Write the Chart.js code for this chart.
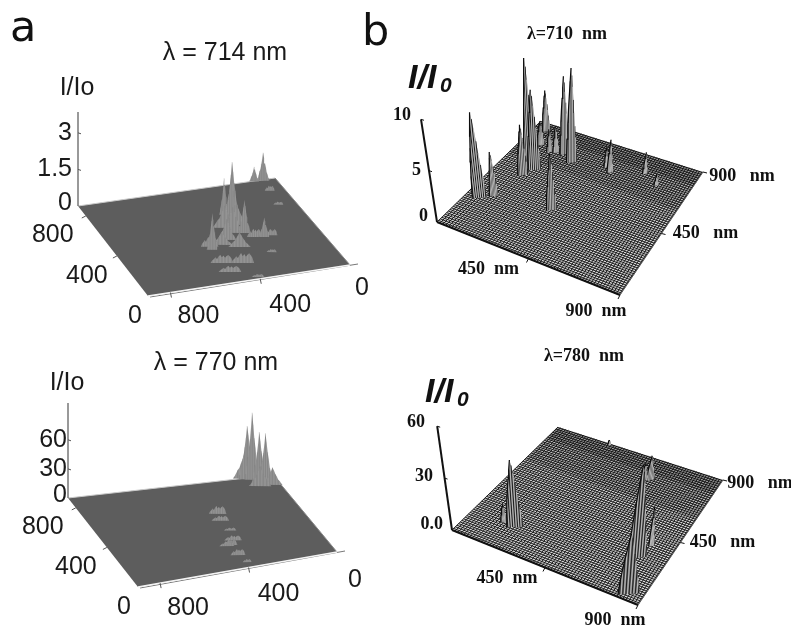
<!DOCTYPE html>
<html><head><meta charset="utf-8">
<style>
html,body{margin:0;padding:0;background:#fff;width:791px;height:631px;overflow:hidden}
canvas{position:absolute;display:block}
.soft{filter:blur(0.7px)}
.tag{position:absolute;font-family:"DejaVu Sans";font-size:43px;line-height:50px;color:#111}
</style>
<script src="https://cdn.jsdelivr.net/npm/chart.js@4/dist/chart.umd.min.js"></script>
</head><body>
<canvas id="c714" class="soft" width="375" height="330" style="left:0;top:0"></canvas>
<canvas id="c770" class="soft" width="375" height="301" style="left:0;top:330px"></canvas>
<canvas id="c710" width="416" height="340" style="left:375px;top:0"></canvas>
<canvas id="c780" width="416" height="291" style="left:375px;top:340px"></canvas>
<div class="tag" style="left:10px;top:1px">a</div>
<div class="tag" style="left:362px;top:5px">b</div>
<script>
// Intensity peaks: position on the sample plane (nm), height (I/Io), base width (nm)
const a714X = [58,97,66,79,246,212,285,267,403,418,498,501,497,496,442,406,378,359,375,314,312,333,315,308];
const a714Y = [890,895,790,651,373,381,387,226,19,167,103,196,359,328,360,398,317,454,510,520,437,629,591,599];
const a714Z = [1.15,0.6,0.2,0.12,0.8,0.25,0.33,0.12,0.12,0.4,0.25,0.33,0.4,1.5,0.5,0.85,0.6,1.05,0.9,0.8,1.35,1.5,1.76,2.25];
const a714W = [50,40,40,40,45,50,60,40,50,90,90,90,70,45,90,80,90,90,100,80,50,40,50,60];

const a770X = [128,118,99,80,56,89,35,350,361,354,374,402,417,402,388];
const a770Y = [895,885,876,837,827,797,796,570,499,388,288,245,241,137,55];
const a770Z = [26,55,69,52,51,20,18,8,5,3,5,6,4,6,3];
const a770W = [90,70,60,60,60,90,80,70,70,50,70,60,60,60,35];

const b710X = [64,112,141,171,145,67,100,164,193,234,294,381,491,455,646,733];
const b710Y = [260,304,574,565,506,842,741,715,724,731,694,351,711,739,775,726];
const b710Z = [8.3,4.3,10.6,7.8,4.9,4,2.3,2.2,2.5,7.6,9.2,5.5,3.2,1.9,2.1,1.2];
const b710W = [52,32,42,50,40,32,30,24,26,36,40,40,24,18,20,18];

const b780X = [286,584,560,157,212,792,770,837];
const b780Y = [890,758,745,175,172,367,270,42];
const b780Z = [3,14,10,10.4,38.7,23,54,35];
const b780W = [14,34,24,26,60,20,70,80];

// Cross-sections of a peak: fraction of its height across its width
const spikeProfile = [0,0.1,0.22,0.3,0.48,0.62,0.82,1,0.78,0.6,0.42,0.34,0.2,0.08,0];
const blobProfile  = [0,0.55,0.8,1,0.85,0.65,0.9,0.7,1,0.8,0.5,0.7,0.45,0.3,0];
const domeProfile  = [0,0.25,0.42,0.58,0.72,0.86,1,0.92,0.8,0.66,0.52,0.38,0.26,0.12,0];

// Axis ticks
const a714ZTicks = [0,1.5,3], a770ZTicks = [0,30,60], b710ZTicks = [0,5,10], b780ZTicks = [0,30,60];
const aPlaneTicks = [0,400,800], bPlaneTicks = [450,900];

const panels = [
 {id:'c714', box:[0,0,375,330], kind:'a', title:'λ = 714 nm', xs:a714X, ys:a714Y, zs:a714Z, ws:a714W,
  c:{foot:[78,206],front:[148,296],right:[350,265],back:[275,178]}, zPx:24.4, zTop:3.85, zTicks:a714ZTicks, lean:[0,0], cross:0.35, blobBelow:0.45,
  titleAt:[225,53], axisAt:[77,88], zLabelX:72, zLabelDy:[-3,0,0],
  yOff:[[-13,20],[-30,20],[-33,19]], xOff:[[12,23],[30,26],[28,24]]},
 {id:'c770', box:[0,330,375,301], kind:'a', title:'λ = 770 nm', xs:a770X, ys:a770Y, zs:a770Z, ws:a770W,
  c:{foot:[68,498],front:[138,587],right:[337,552],back:[273,475]}, zPx:0.97, zTop:98, zTicks:a770ZTicks, lean:[0,0], cross:0.35, blobBelow:10,
  titleAt:[216,363], axisAt:[67,383], zLabelX:67, zLabelDy:[-3,0,0],
  yOff:[[-14,20],[-31,20],[-33,19]], xOff:[[18,28],[30,27],[28,25]]},
 {id:'c710', box:[375,0,416,340], kind:'b', title:'λ=710  nm', xs:b710X, ys:b710Y, zs:b710Z, ws:b710W,
  c:{foot:[437,222],front:[620,295],right:[703,172],back:[541,121]}, zPx:10.27, zTop:10, zTicks:b710ZTicks, lean:[0.00117,570], cross:0.72,
  titleAt:[567,34], axisAt:[408,88], zLabelX:[428,421,411], zLabelY:[216,170,115],
  xOff:[[-40,11],[-24,16]], yOff:[[44,0],[39,4]]},
 {id:'c780', box:[375,340,416,291], kind:'b', title:'λ=780  nm', xs:b780X, ys:b780Y, zs:b780Z, ws:b780W,
  c:{foot:[452,530],front:[638,605],right:[723,480],back:[558,427]}, zPx:1.73, zTop:60, zTicks:b780ZTicks, lean:[0.00121,570], cross:0.72,
  titleAt:[584,356], axisAt:[425,402], zLabelX:[443,433,425], zLabelY:[524,476,422],
  xOff:[[-38,11],[-23,15]], yOff:[[42,0],[37,3]], zFmt:v=>v===0?'0.0':String(v)}
];

const SPAN = 900;
const MESH_STEP = 14;

function makeProjector(p){
  const {foot,front,right,back} = p.c;
  // a-panels: x runs from the right corner to the front-left corner; b-panels: foot to front
  const corners = p.kind==='a'
    ? {o:right, ex:front, ey:back, exy:foot}
    : {o:foot,  ex:front, ey:back, exy:right};
  return function(x,y,z){
    const u=x/SPAN, v=y/SPAN;
    const bl=i=>corners.o[i]*(1-u)*(1-v)+corners.ex[i]*u*(1-v)+corners.ey[i]*(1-u)*v+corners.exy[i]*u*v;
    const bx=bl(0), by=bl(1), h=(z||0)*p.zPx;
    return {x:bx+h*p.lean[0]*(bx-p.lean[1]), y:by-h};
  };
}

function line(data,color,width,extra){
  return Object.assign({data,showLine:true,borderColor:color,borderWidth:width,pointRadius:0,fill:false,tension:0,clip:false,spanGaps:false},extra||{});
}
function area(data,color){
  return line(data,'rgba(0,0,0,0)',0,{fill:'shape',backgroundColor:color});
}
const GAP={x:NaN,y:NaN};

function buildDatasets(p){
  const P=makeProjector(p), sets=[];   // sets are listed back to front and reversed at the end
  const isA=p.kind==='a';
  const c=p.c;
  const plane=(y0,y1)=>[P(0,y0),P(SPAN,y0),P(SPAN,y1),P(0,y1),P(0,y0)];
  sets.push(area(plane(0,SPAN), isA?'#5d5d5d':'#d6d6d6'));
  if(!isA){
    const g1=[],g2=[];
    for(let i=0;i<=SPAN;i+=MESH_STEP){
      g1.push(P(i,0),P(i,SPAN),GAP);
      g2.push(P(0,i),P(SPAN,i),GAP);
    }
    sets.push(line(g1,'#161616',0.95));
    sets.push(line(g2,'#161616',0.95));
    sets.push(area(plane(620,SPAN),'rgba(0,0,0,0.12)'));
    sets.push(area(plane(800,SPAN),'rgba(0,0,0,0.16)'));
  }
  // edges
  if(isA){
    sets.push(line([P(SPAN,SPAN),P(0,SPAN)],'#c9c9c9',1));
    sets.push(line([P(0,SPAN),P(0,0)],'#8a8a8a',1));
    sets.push(line([{x:c.front[0]+2,y:c.front[1]+1},{x:c.right[0]+8,y:c.right[1]-1}],'#777',1));
    sets.push(line([P(SPAN,0),P(0,0)],'#f4f4f4',1.4));
  } else {
    sets.push(line([P(0,0),P(SPAN,0)],'#111',2));
    sets.push(line([P(SPAN,0),P(SPAN,SPAN)],'#555',1));
  }
  // peaks, far ones first
  const order=p.xs.map((_,i)=>i).sort((i,j)=>P(p.xs[i],p.ys[i]).y-P(p.xs[j],p.ys[j]).y);
  for(const i of order){
    const shape = !isA ? domeProfile : (p.zs[i]<p.blobBelow ? blobProfile : spikeProfile);
    const w=p.ws[i], n=shape.length, pts=[], dark=[], pale=[];
    shape.forEach((f,k)=>{
      const t=k/(n-1)-0.5;
      const qx=p.xs[i]+t*w, qy=p.ys[i]+t*w*p.cross;
      const top=P(qx,qy,p.zs[i]*f), base=P(qx,qy,0);
      pts.push(top);
      (k%2?dark:pale).push(base,top,GAP);
    });
    const outline=pts.slice(0,n);
    pts.push(pts[0]);
    if(isA){
      sets.push(area(pts,'#8f8f8f'));
      sets.push(line(pale,'rgba(170,170,170,0.25)',1));
      sets.push(line(dark,'rgba(110,110,110,0.25)',1));
    } else {
      sets.push(area(pts,'#6e6e6e'));
      sets.push(line(dark,'#161616',0.9));
      sets.push(line(pale,'#d2d2d2',0.8));
      sets.push(line(outline.slice(0,7),'#0c0c0c',1.2));
    }
  }
  // vertical axis and ticks
  const corner=isA?SPAN:0;
  sets.push(line([P(corner,corner,0),P(corner,corner,p.zTop)],isA?'#555':'#111',isA?1.2:2));
  const ticks=[];
  p.zTicks.forEach(v=>{ if(v){ const q=P(corner,corner,v); ticks.push(q,{x:q.x+3,y:q.y+1},GAP);} });
  (isA?[400,800]:bPlaneTicks).forEach(v=>{
    const q=P(v,0), s=P(SPAN,v);
    if(isA){
      ticks.push(q,{x:q.x+1,y:q.y+5},GAP);
      ticks.push(s,{x:s.x-4,y:s.y+2},GAP);
    } else {
      ticks.push(q,{x:q.x-2,y:q.y+4},GAP);
      ticks.push(s,{x:s.x+4,y:s.y+1},GAP);
    }
  });
  sets.push(line(ticks,isA?'#555':'#111',1));
  return sets.reverse();
}

const labelPlugin={
  id:'labels',
  afterDraw(chart,args,opts){
    const p=opts.panel, P=makeProjector(p), g=chart.ctx;
    const sx=v=>chart.scales.x.getPixelForValue(v), sy=v=>chart.scales.y.getPixelForValue(v);
    const put=(t,x,y,font,al,base,col)=>{
      g.font=font; g.textAlign=al||'center'; g.textBaseline=base||'middle'; g.fillStyle=col||'#1a1a1a';
      g.fillText(t,sx(x),sy(y));
    };
    g.save();
    if(p.kind==='a'){
      const F='"Liberation Sans"';
      put(p.title,p.titleAt[0],p.titleAt[1],'25px '+F);
      put('I/Io',p.axisAt[0],p.axisAt[1],'25px '+F);
      p.zTicks.forEach((v,i)=>put(String(v),p.zLabelX,P(SPAN,SPAN,v).y+p.zLabelDy[i],'25px '+F,'right'));
      aPlaneTicks.forEach((v,i)=>{
        const a=P(SPAN,v); put(String(v),a.x+p.yOff[i][0],a.y+p.yOff[i][1],'25px '+F);
        const b=P(v,0); put(String(v),b.x+p.xOff[i][0],b.y+p.xOff[i][1],'25px '+F);
      });
    } else {
      const F='bold 18px "Liberation Serif"';
      put(p.title,p.titleAt[0],p.titleAt[1],'bold 18px "Liberation Serif"','center','middle','#111');
      put('I/I',p.axisAt[0],p.axisAt[1],'italic bold 34px "Liberation Sans"','left','alphabetic','#111');
      put('0',p.axisAt[0]+32,p.axisAt[1]+4,'italic bold 21px "Liberation Sans"','left','alphabetic','#111');
      const fmt=p.zFmt||String;
      p.zTicks.forEach((v,i)=>put(fmt(v),p.zLabelX[i],p.zLabelY[i],'bold 18px "Liberation Serif"','right','middle','#111'));
      bPlaneTicks.forEach((v,i)=>{
        const a=P(v,0); put(v+'  nm',a.x+p.xOff[i][0],a.y+p.xOff[i][1],F,'center','middle','#111');
        const b=P(SPAN,v); put(v+'   nm',b.x+p.yOff[i][0],b.y+p.yOff[i][1],F,'center','middle','#111');
      });
    }
    g.restore();
  }
};

panels.forEach(p=>{
  const [L,T,W,H]=p.box;
  new Chart(document.getElementById(p.id),{
    type:'scatter',
    data:{datasets:buildDatasets(p)},
    plugins:[labelPlugin],
    options:{
      responsive:false,animation:false,events:[],
      layout:{padding:0},
      scales:{
        x:{type:'linear',display:false,min:L,max:L+W},
        y:{type:'linear',display:false,reverse:true,min:T,max:T+H}
      },
      plugins:{legend:{display:false},tooltip:{enabled:false},title:{display:false},labels:{panel:p}}
    }
  });
});
</script>
</body></html>
